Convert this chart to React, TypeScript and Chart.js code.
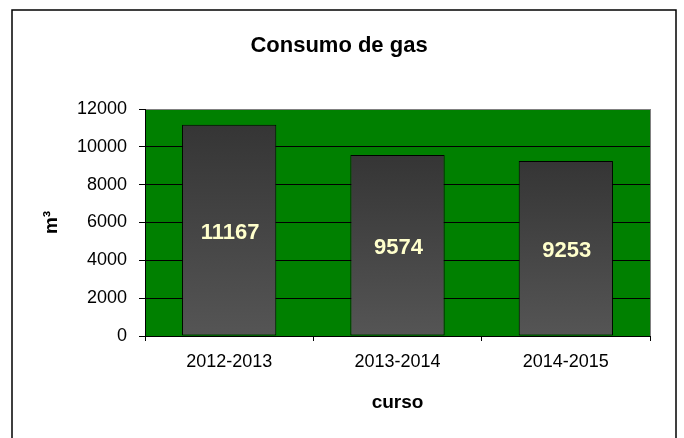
import React, { useEffect, useRef } from "react";
import { Chart, registerables } from "chart.js";

Chart.register(...registerables);

const categories = ["2012-2013", "2013-2014", "2014-2015"];
const consumption = [11167, 9574, 9253];
const yTickValues = [0, 2000, 4000, 6000, 8000, 10000, 12000];
const chartTitle = "Consumo de gas";
const yAxisTitle = "m³";
const xAxisTitle = "curso";

const FONT = "'Liberation Sans', Arial, Helvetica, sans-serif";

const backgroundPlugin = {
  id: "bgFrame",
  beforeDraw(chart: any) {
    const { ctx, width, height, chartArea: a } = chart;
    ctx.save();
    ctx.fillStyle = "#ffffff";
    ctx.fillRect(0, 0, width, height);
    ctx.strokeStyle = "#000000";
    ctx.lineWidth = 1.5;
    ctx.strokeRect(12, 10, width - 20, height + 20);
    ctx.fillStyle = "#008000";
    ctx.fillRect(a.left, a.top, a.right - a.left, a.bottom - a.top);
    ctx.restore();
  },
  beforeDatasetsDraw(chart: any) {
    const { ctx, chartArea: a } = chart;
    ctx.save();
    ctx.strokeStyle = "#808080";
    ctx.lineWidth = 1;
    ctx.beginPath();
    ctx.moveTo(Math.round(a.right) + 0.5, a.top);
    ctx.lineTo(Math.round(a.right) + 0.5, a.bottom);
    ctx.stroke();
    ctx.restore();
  },
};

const valueLabelPlugin = {
  id: "valueLabels",
  afterDatasetsDraw(chart: any) {
    const { ctx } = chart;
    const meta = chart.getDatasetMeta(0);
    ctx.save();
    ctx.font = `bold 22px ${FONT}`;
    ctx.fillStyle = "#FFFFCC";
    ctx.textAlign = "center";
    ctx.textBaseline = "middle";
    meta.data.forEach((el: any, i: number) => {
      const y = (el.y + el.base) / 2 + 3;
      ctx.fillText(String(consumption[i]), el.x + 1, y);
    });
    ctx.restore();
  },
};

export default function App() {
  const canvasRef = useRef<HTMLCanvasElement | null>(null);

  useEffect(() => {
    if (!canvasRef.current) return;
    const yScaleMin = yTickValues[0];
    const yScaleMax = yTickValues[yTickValues.length - 1];
    const step = yTickValues[1] - yTickValues[0];

    const chart = new Chart(canvasRef.current, {
      type: "bar",
      data: {
        labels: categories,
        datasets: [
          {
            data: consumption,
            backgroundColor: (c: any) => {
              const ch = c.chart;
              if (!ch.chartArea || !ch.scales || !ch.scales.y) return "#444444";
              const v = consumption[c.dataIndex] ?? 0;
              const yTop = ch.scales.y.getPixelForValue(v);
              const yBot = ch.scales.y.getPixelForValue(0);
              const g = ch.ctx.createLinearGradient(0, yTop, 0, yBot);
              g.addColorStop(0, "#353535");
              g.addColorStop(1, "#555555");
              return g;
            },
            borderColor: "#000000",
            borderWidth: 1,
            borderSkipped: false,
            categoryPercentage: 1,
            barPercentage: 0.56,
          },
        ],
      },
      options: {
        responsive: false,
        animation: false,
        devicePixelRatio: 1,
        layout: { padding: { left: 28, right: 34, top: 0, bottom: 0 } },
        plugins: {
          legend: { display: false },
          tooltip: { enabled: false },
          title: {
            display: true,
            text: chartTitle,
            color: "#000000",
            font: { family: FONT, size: 22, weight: "bold", lineHeight: 1 },
            padding: { top: 35, bottom: 52 },
          },
        },
        scales: {
          x: {
            afterFit: (scale: any) => {
              scale.height = 102;
            },
            grid: {
              offset: true,
              drawOnChartArea: false,
              drawTicks: true,
              tickLength: 5,
              color: "#000000",
              tickColor: "#000000",
            },
            border: { display: true, color: "#000000", width: 1 },
            ticks: {
              color: "#000000",
              font: { family: FONT, size: 18 },
              padding: 10,
              maxRotation: 0,
            },
            title: {
              display: true,
              text: xAxisTitle,
              color: "#000000",
              font: { family: FONT, size: 19, weight: "bold", lineHeight: 1.2 },
              padding: { top: 0, bottom: 24 },
            },
          },
          y: {
            min: yScaleMin,
            max: yScaleMax,
            afterFit: (scale: any) => {
              scale.width = 117;
            },
            grid: {
              drawTicks: true,
              tickLength: 6,
              color: (c: any) =>
                c.tick && c.tick.value === yScaleMax ? "#808080" : "#000000",
              tickColor: "#000000",
            },
            border: { display: true, color: "#000000", width: 1 },
            ticks: {
              stepSize: step,
              color: "#000000",
              font: { family: FONT, size: 18 },
              padding: 12,
              callback: (v: any) => String(v),
            },
            title: {
              display: true,
              text: yAxisTitle,
              color: "#000000",
              font: { family: FONT, size: 19, weight: "bold", lineHeight: 1.2 },
              padding: { top: 12, bottom: 0 },
            },
          },
        },
      },
      plugins: [backgroundPlugin, valueLabelPlugin],
    } as any);

    return () => {
      chart.destroy();
    };
  }, []);

  return (
    <div style={{ position: "fixed", left: 0, top: 0, width: 684, height: 438, background: "#fff" }}>
      <canvas ref={canvasRef} width={684} height={438} style={{ display: "block", width: 684, height: 438 }} />
    </div>
  );
}
